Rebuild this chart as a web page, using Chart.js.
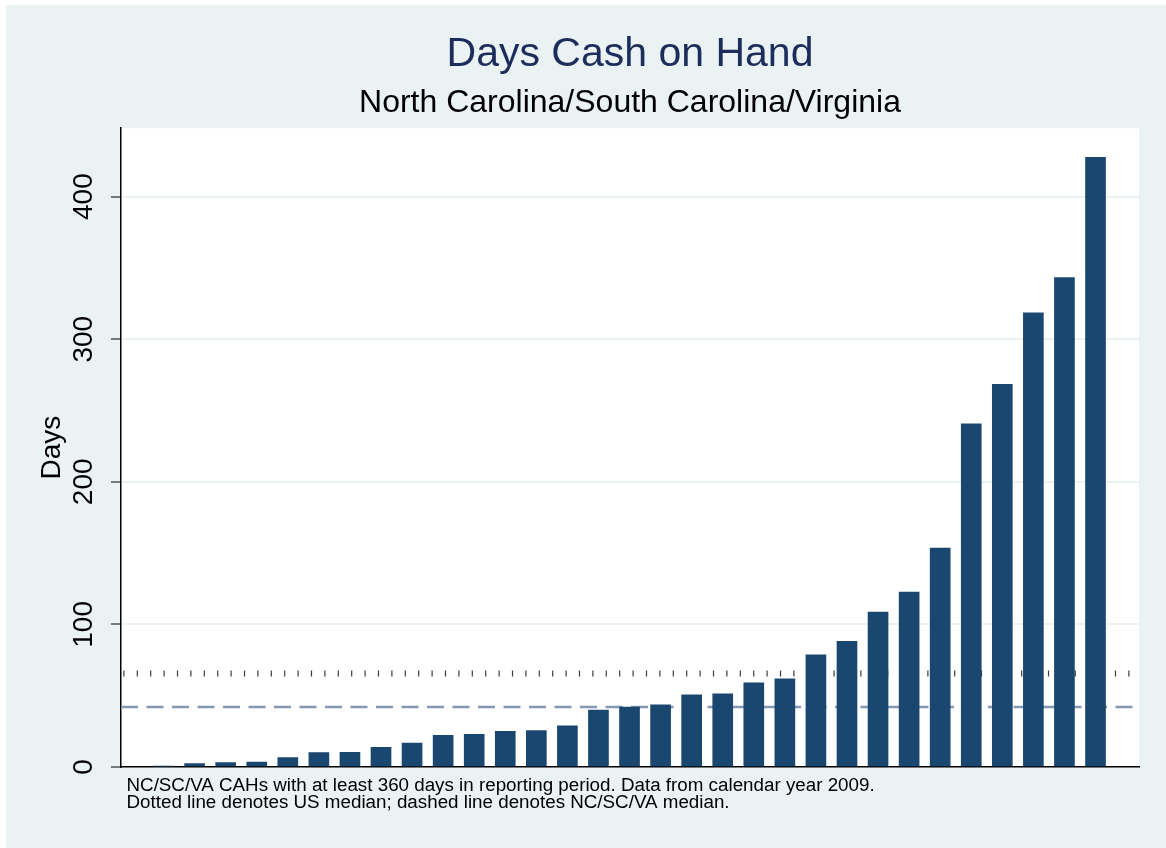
<!DOCTYPE html>
<html>
<head>
<meta charset="utf-8">
<title>Days Cash on Hand</title>
<script src="https://cdn.jsdelivr.net/npm/chart.js@4.4.1/dist/chart.umd.min.js"></script>
<style>
  html, body { margin: 0; padding: 0; background: #fff; }
  #wrap { width: 1166px; height: 848px; }
</style>
</head>
<body>
<div id="wrap"><canvas id="cashChart" width="1166" height="848"></canvas></div>
<script>
// 📦 Data: one bar per CAH, sorted by days cash on hand
const hospitals = [1, 2, 3, 4, 5, 6, 7, 8, 9, 10, 11, 12, 13, 14, 15, 16,
  17, 18, 19, 20, 21, 22, 23, 24, 25, 26, 27, 28, 29, 30, 31];
const daysCash = [0.5, 2.4, 3.1, 3.5, 6.6, 10.1, 10.3, 13.8, 16.8, 22.2, 22.9,
  25.0, 25.5, 28.8, 40.0, 42.1, 43.6, 50.6, 51.3, 59.0, 61.8, 78.7, 88.1,
  108.6, 122.6, 153.5, 240.7, 268.3, 318.6, 343.2, 427.6];
const usMedian = 65.5;      // dotted line
const regionMedian = 42;    // dashed line
const yTicks = [0, 100, 200, 300, 400];
const noteLines = [
  'NC/SC/VA CAHs with at least 360 days in reporting period. Data from calendar year 2009.',
  'Dotted line denotes US median; dashed line denotes NC/SC/VA median.'
];

const FONT = '"Liberation Sans", Arial, Helvetica, sans-serif';
const BG = '#eaf2f3';
const xMin = -0.37;
const xMax = 32.4;

// 🎨 Outer box + white plot region
const backdrop = {
  id: 'backdrop',
  beforeDraw(chart) {
    const { ctx, chartArea: a } = chart;
    ctx.save();
    ctx.fillStyle = '#fff';
    ctx.fillRect(0, 0, chart.width, chart.height);
    ctx.fillStyle = BG;
    ctx.fillRect(6, 5, chart.width - 6, chart.height - 5);
    ctx.fillStyle = '#fff';
    ctx.fillRect(a.left, a.top, a.right - a.left, a.bottom - a.top);
    ctx.restore();
  }
};

// 🧾 Notes under the plot
const notes = {
  id: 'notes',
  afterDraw(chart) {
    const ctx = chart.ctx;
    ctx.save();
    ctx.fillStyle = '#000';
    ctx.font = `18.8px ${FONT}`;
    ctx.textAlign = 'left';
    ctx.textBaseline = 'alphabetic';
    noteLines.forEach((line, i) => ctx.fillText(line, 126.5, 791 + i * 16.6));
    ctx.restore();
  }
};

function flatLine(value) {
  return [{ x: xMin, y: value }, { x: xMax, y: value }];
}

new Chart(document.getElementById('cashChart'), {
  type: 'bar',
  data: {
    datasets: [
      {
        label: 'Days cash on hand',
        data: hospitals.map((h, i) => ({ x: h, y: daysCash[i] })),
        backgroundColor: '#1a476f',
        barThickness: 20,
        order: 0
      },
      {
        type: 'line',
        label: 'US median',
        data: flatLine(usMedian),
        borderColor: '#3a3a3a',
        borderWidth: 6,
        borderDash: [1.2, 12.2],
        borderDashOffset: 11.1,
        borderCapStyle: 'butt',
        pointRadius: 0,
        order: 2
      },
      {
        type: 'line',
        label: 'NC/SC/VA median',
        data: flatLine(regionMedian),
        borderColor: '#8499b1',
        borderWidth: 2.5,
        borderDash: [17, 8.5],
        borderCapStyle: 'butt',
        pointRadius: 0,
        order: 1
      }
    ]
  },
  options: {
    responsive: false,
    animation: false,
    layout: { padding: { left: 0, right: 27, top: 0, bottom: 81 } },
    scales: {
      x: {
        type: 'linear',
        min: xMin,
        max: xMax,
        offset: false,
        grid: { display: false, drawTicks: false, offset: false },
        ticks: { display: false },
        border: { color: '#000', width: 1.5 },
        afterFit: s => { s.height = 0; }
      },
      y: {
        min: 0,
        max: 448,
        afterBuildTicks: axis => { axis.ticks = yTicks.map(v => ({ value: v })); },
        afterFit: s => { s.width = 121; },
        border: { color: '#000', width: 1.5 },
        grid: { color: BG, lineWidth: 2, tickColor: '#000', tickWidth: 1, tickLength: 10 },
        ticks: {
          minRotation: 90,
          maxRotation: 90,
          crossAlign: 'center',
          padding: 3,
          color: '#000',
          font: { family: FONT, size: 28 }
        },
        title: {
          display: true,
          text: 'Days',
          color: '#000',
          font: { family: FONT, size: 28 },
          padding: { top: 35, bottom: 0 }
        }
      }
    },
    plugins: {
      legend: { display: false },
      tooltip: { enabled: false },
      title: {
        display: true,
        text: 'Days Cash on Hand',
        color: '#1c2d5c',
        fullSize: false,
        font: { family: FONT, size: 41, weight: 'normal' },
        padding: { top: 30, bottom: 0 }
      },
      subtitle: {
        display: true,
        text: 'North Carolina/South Carolina/Virginia',
        color: '#000',
        fullSize: false,
        font: { family: FONT, size: 32, weight: 'normal' },
        padding: { top: 5, bottom: 5.6 }
      }
    }
  },
  plugins: [backdrop, notes]
});
</script>
</body>
</html>
